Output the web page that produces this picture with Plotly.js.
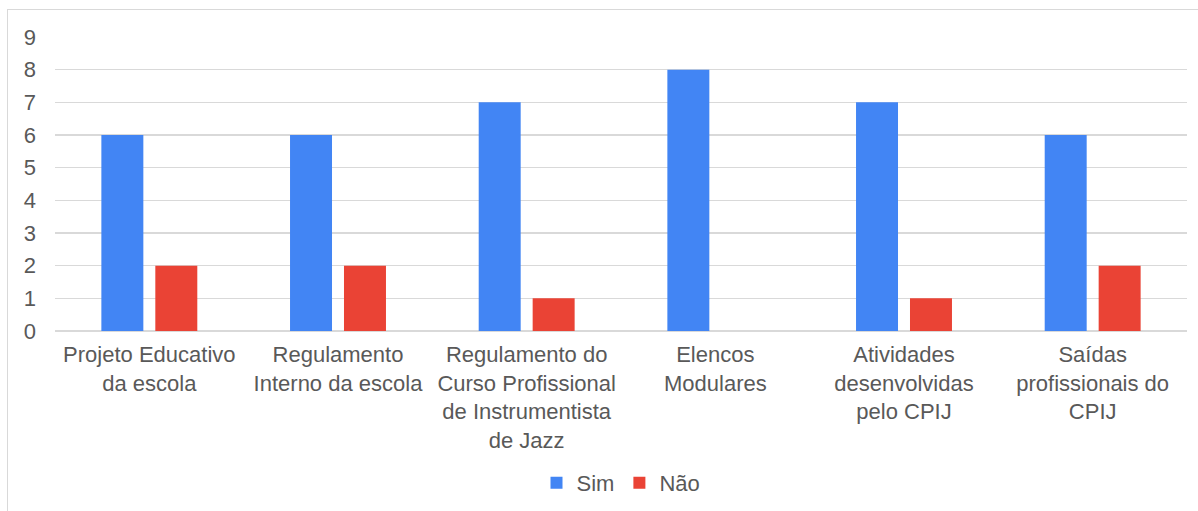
<!DOCTYPE html>
<html><head><meta charset="utf-8">
<script src="https://cdn.plot.ly/plotly-3.0.1.min.js"></script>
<style>
html,body{margin:0;padding:0;background:#fff;}
#wrap{position:relative;width:1198px;height:511px;}
#chart{width:1198px;height:511px;}
#frame{position:absolute;left:7px;top:9px;width:1191px;height:502px;border-left:1.5px solid #d9d9d9;border-top:1.5px solid #d9d9d9;box-sizing:border-box;pointer-events:none;}
</style></head>
<body>
<div id="wrap"><div id="chart"></div><div id="frame"></div></div>
<script>
const categories = [
  "Projeto Educativo<br>da escola",
  "Regulamento<br>Interno da escola",
  "Regulamento do<br>Curso Profissional<br>de Instrumentista<br>de Jazz",
  "Elencos<br>Modulares",
  "Atividades<br>desenvolvidas<br>pelo CPIJ",
  "Saídas<br>profissionais do<br>CPIJ"
];
const simValues = [6, 6, 7, 8, 7, 6];
const naoValues = [2, 2, 1, 0, 1, 2];
const yTicks = [0,1,2,3,4,5,6,7,8,9];

const font = {family: "Liberation Sans, Arial, sans-serif", size: 22, color: "#595959"};
const traces = [
  {type:"bar", name:"Sim", x:categories, y:simValues, marker:{color:"#4285F4"}, hoverinfo:"none"},
  {type:"bar", name:"Não", x:categories, y:naoValues, marker:{color:"#EA4335"}, hoverinfo:"none"}
];
const layout = {
  width:1198, height:511,
  margin:{l:55, r:11, t:37, b:180, autoexpand:false},
  paper_bgcolor:"#fff", plot_bgcolor:"#fff",
  font:font,
  barmode:"group", bargap:0.428, bargroupgap:0.222,
  showlegend:true,
  legend:{orientation:"h", x:0.5, xanchor:"center", y:-0.517, yanchor:"middle", font:font, itemwidth:20, tracegroupgap:0, traceorder:"normal"},
  xaxis:{type:"category", showgrid:false, zeroline:false, showline:false, ticks:"", tickfont:font, tickangle:0, automargin:false, ticklabelstandoff:8},
  yaxis:{range:[0,9], tickvals:yTicks, ticktext:yTicks.map(String), showgrid:true, gridcolor:"#d9d9d9", gridwidth:1.5, zeroline:true, zerolinecolor:"#d9d9d9", zerolinewidth:1.5, showline:false, ticks:"", tickfont:font, ticklabelstandoff:18, automargin:false}
};
Plotly.newPlot("chart", traces, layout, {staticPlot:true, displayModeBar:false});
</script>
</body></html>
